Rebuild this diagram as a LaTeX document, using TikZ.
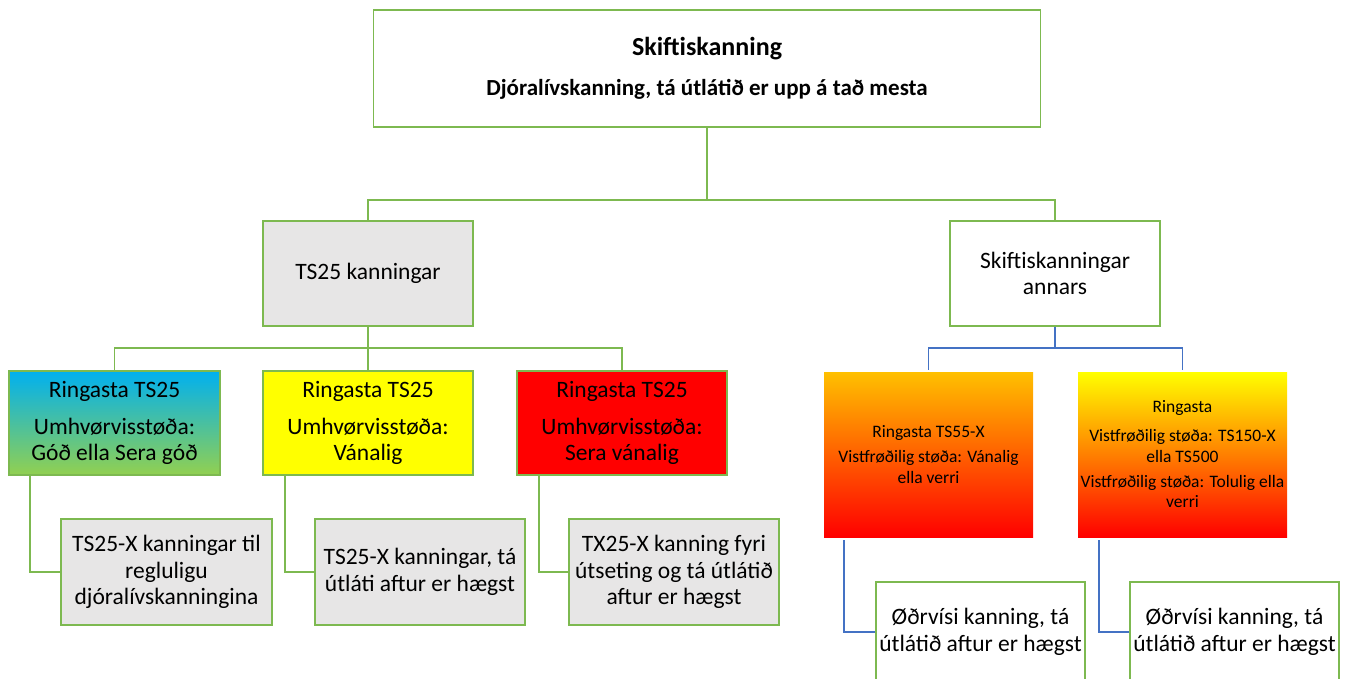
\documentclass[tikz,border=0pt]{standalone}
\usepackage{fontspec}
\setmainfont{Carlito}
\definecolor{lg}{RGB}{125,185,80}
\definecolor{bl}{RGB}{68,114,196}
\definecolor{gr}{RGB}{231,230,230}
\definecolor{cy}{RGB}{0,176,240}
\definecolor{gn}{RGB}{146,208,80}
\definecolor{og}{RGB}{255,192,0}
\definecolor{yl}{RGB}{255,255,0}
\definecolor{rd}{RGB}{255,0,0}
\newcommand\fsT{\fontsize{23}{26}\selectfont}
\newcommand\fsTT{\fontsize{26}{26}\selectfont}
\newcommand\fsA{\fontsize{23.5}{26.5}\selectfont}
\newcommand\fsS{\fontsize{17.5}{20.5}\selectfont}
\begin{document}
\begin{tikzpicture}[x=1pt,y=-1pt,
  box/.style={draw=lg, line width=1.3pt, inner sep=0pt, align=center, text=black},
  gbox/.style={inner sep=0pt, align=center, text=black, minimum width=209, minimum height=165, font=\fsS},
  gline/.style={draw=lg, line width=1.3pt},
  bline/.style={draw=bl, line width=1.3pt}]
\useasboundingbox (0,0) rectangle (1354,679);
\clip (0,0) rectangle (1354,679);
% level 1
\node[box, fill=white, minimum width=667, minimum height=117, font=\bfseries\fsT] (top) at (707,68.5)
  {{\fsTT Skiftiskanning}\\[14pt]Djóralívskanning, tá útlátið er upp á tað mesta};
% level 2
\node[box, fill=gr, minimum width=210, minimum height=105, font=\fsA] (ts25) at (368,273.5) {TS25 kanningar};
\node[box, fill=white, minimum width=210, minimum height=105, font=\fsA] (annars) at (1055,273.5) {Skiftiskanningar\\annars};
% level 3 left
\node[box, top color=cy, bottom color=gn, minimum width=211, minimum height=104, font=\fsA] (b1) at (114.5,423)
  {Ringasta TS25\\[10pt]Umhvørvisstøða:\\Góð ella Sera góð};
\node[box, fill=yl, minimum width=210, minimum height=104, font=\fsA] (b2) at (368,423)
  {Ringasta TS25\\[10pt]Umhvørvisstøða:\\Vánalig};
\node[box, fill=rd, minimum width=210, minimum height=104, font=\fsA] (b3) at (622,423)
  {Ringasta TS25\\[10pt]Umhvørvisstøða:\\Sera vánalig};
% level 4 left
\node[box, fill=gr, minimum width=211, minimum height=106, font=\fsA] (c1) at (166.5,572)
  {TS25-X kanningar til\\regluligu\\djóralívskanningina};
\node[box, fill=gr, minimum width=210, minimum height=106, font=\fsA] (c2) at (420,572)
  {TS25-X kanningar, tá\\útláti aftur er hægst};
\node[box, fill=gr, minimum width=210, minimum height=106, font=\fsA] (c3) at (674,572)
  {TX25-X kanning fyri\\útseting og tá útlátið\\aftur er hægst};
% level 3 right
\node[gbox, top color=og, bottom color=rd] (o1) at (928.5,454.5)
  {Ringasta TS55-X\\[4.5pt]Vistfrøðilig støða: Vánalig\\ella verri};
\node[gbox, top color=yl, bottom color=rd] (o2) at (1182.5,454.5)
  {Ringasta\\[8.5pt]Vistfrøðilig støða: TS150-X\\ella TS500\\[4.5pt]Vistfrøðilig støða: Tolulig ella\\verri};
% level 4 right
\node[box, fill=white, minimum width=209, minimum height=100, font=\fontsize{23.5}{27}\selectfont] (d1) at (980.5,632)
  {Øðrvísi kanning, tá\\útlátið aftur er hægst};
\node[box, fill=white, minimum width=209, minimum height=100, font=\fontsize{23.5}{27}\selectfont] (d2) at (1234.5,632)
  {Øðrvísi kanning, tá\\útlátið aftur er hægst};
% connectors
\coordinate (j1) at (707,200);
\coordinate (j2) at (368,348);
\coordinate (j3) at (1055,348);
\draw[gline] (top.south) -- (j1);
\draw[gline] (ts25.north) |- (j1) -| (annars.north);
\draw[gline] (ts25.south) -- (j2);
\draw[gline] (b1.north) |- (j2) -| (b3.north);
\draw[gline] (b2.north) -- (j2);
\draw[gline] ([xshift=-84.5pt]b1.south) |- (c1.west);
\draw[gline] ([xshift=-83pt]b2.south) |- (c2.west);
\draw[gline] ([xshift=-83pt]b3.south) |- (c3.west);
\draw[bline] (annars.south) -- (j3);
\draw[bline] ([yshift=2pt]o1.north) |- (j3) -| ([yshift=2pt]o2.north);
\draw[bline] ([xshift=-84.5pt,yshift=-3pt]o1.south) |- (d1.west);
\draw[bline] ([xshift=-83.5pt,yshift=-3pt]o2.south) |- (d2.west);
\end{tikzpicture}
\end{document}
